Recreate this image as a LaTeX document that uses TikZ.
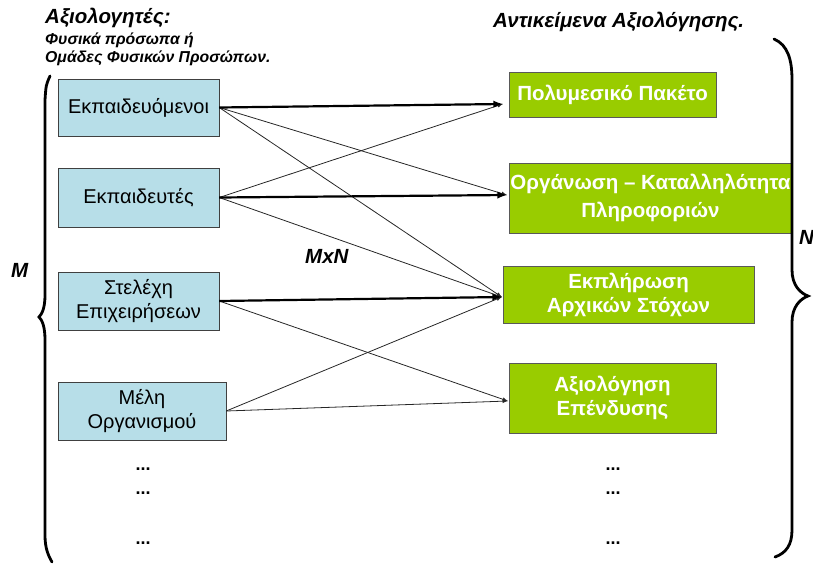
\documentclass[tikz,border=0pt]{standalone}
\usepackage{fontspec}
\setmainfont{Liberation Sans}
\usetikzlibrary{positioning}
\usetikzlibrary{arrows.meta}
\definecolor{evalblue}{HTML}{B7DEE8}
\definecolor{objgreen}{HTML}{99CC00}
\tikzset{
    evalbox/.style = {rectangle, draw=black!75, fill=evalblue, align=center, inner sep=0pt, font=\fontsize{20}{24}\selectfont},
    objbox/.style = {rectangle, draw=black!65, fill=objgreen, align=center, inner sep=0pt, text=white, font=\bfseries\fontsize{20.5}{24}\selectfont},
    title/.style = {anchor=west, inner sep=0pt, font=\bfseries\itshape\fontsize{20.5}{22}\selectfont},
    subtitle/.style = {anchor=west, inner sep=0pt, font=\bfseries\itshape\fontsize{15.8}{18}\selectfont},
    dots/.style = {inner sep=0pt, font=\bfseries\fontsize{18}{20}\selectfont},
    edgen/.style = {-latex, line width=0.8pt, black!85},
    edgeth/.style = {-latex, line width=2.2pt}, % main pairs
    bracel/.style = {line width=2.8pt, line cap=round}
}

\begin{document}
\begin{tikzpicture}[x=1pt, y=-1pt]
  \useasboundingbox (0,0) rectangle (813,563);

  % evaluators
  \node[title] at (45,18) (tl) {Αξιολογητές:};
  \node[subtitle] at (45,40) (s1) {Φυσικά πρόσωπα ή};
  \node[subtitle] at (45,58) (s2) {Ομάδες Φυσικών Προσώπων.};
  \node[title] at (493,22) (tr) {Αντικείμενα Αξιολόγησης.};

  \node[evalbox, minimum width=161pt, minimum height=57pt] at (138.5,107.5) (e1) {Εκπαιδευόμενοι};
  \node[evalbox, minimum width=161pt, minimum height=59pt] at (138.5,197.5) (e2) {Εκπαιδευτές};
  \node[evalbox, minimum width=161pt, minimum height=58pt] at (138.5,301) (e3) {Στελέχη\\Επιχειρήσεων};
  \node[evalbox, minimum width=168pt, minimum height=58pt] at (142,411) (e4) {Μέλη\\Οργανισμού};

  % objects
  \node[objbox, minimum width=207pt, minimum height=45pt] at (612.5,94.5) (oA) {Πολυμεσικό Πακέτο};
  \node[objbox, minimum width=283pt, minimum height=70pt, font=\bfseries\fontsize{20.5}{28}\selectfont] at (650.5,198) (oB) {Οργάνωση – Καταλληλότητα\\Πληροφοριών};
  \node[objbox, minimum width=251pt, minimum height=57pt] at (628.5,294.5) (oC) {Εκπλήρωση\\Αρχικών Στόχων};
  \node[objbox, minimum width=207pt, minimum height=70pt] at (612.5,398) (oD) {Αξιολόγηση\\Επένδυσης};

  \coordinate (inA) at ([shift={(-6,9.5)}]oA.west);
  \coordinate (inB) at ([shift={(-2,-3)}]oB.west);
  \coordinate (inC) at ([shift={(-1,2.5)}]oC.west);
  \coordinate (inD) at ([shift={(-1,3)}]oD.west);

  \draw[edgen] (e1.east) -- (inB);
  \draw[edgen] (e1.east) -- (inC);
  \draw[edgen] (e2.east) -- (inA);
  \draw[edgen] (e2.east) -- (inC);
  \draw[edgen] (e3.east) -- (inD);
  \draw[edgen] (e4.east) -- (inC);
  \draw[edgen] (e4.east) -- (inD);
  \draw[edgeth] (e1.east) -- (inA);
  \draw[edgeth] (e2.east) -- (inB);
  \draw[edgeth] (e3.east) -- (inC);

  \node[title] at (305,256) (mn) {MxN};
  \node[title] at (11,270) (m) {M};
  \node[title] at (799,237) (n) {N};

  \node[dots] at (143,469) (d1) {...};
  \node[dots] at (143,493) (d2) {...};
  \node[dots] at (143,543) (d3) {...};
  \node[dots] at (613,469) (d4) {...};
  \node[dots] at (613,493) (d5) {...};
  \node[dots] at (613,543) (d6) {...};

  % braces
  \draw[bracel] (50,76) .. controls (46,85) .. (45,100) -- (45,295)
    .. controls (45,308) and (42,314) .. (39,317)
    .. controls (42,320) and (45,326) .. (45,340) -- (45,535)
    .. controls (45,548) and (48,555) .. (52,562);
  \draw[bracel] (774,39) .. controls (788,45) and (792,60) .. (792,80) -- (792,270)
    .. controls (792,285) and (800,293) .. (808,296)
    .. controls (800,299) and (792,307) .. (792,322) -- (792,530)
    .. controls (792,545) and (786,553) .. (775,557);
\end{tikzpicture}
\end{document}
